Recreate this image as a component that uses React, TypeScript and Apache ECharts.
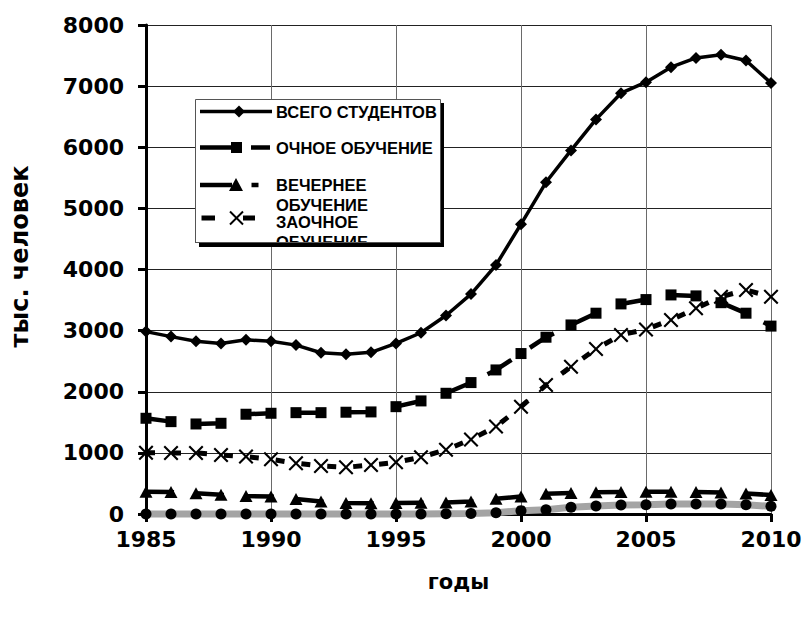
import React, { useEffect, useRef } from "react";
import * as echarts from "echarts";

const years = [1985, 1986, 1987, 1988, 1989, 1990, 1991, 1992, 1993, 1994, 1995, 1996, 1997, 1998, 1999, 2000, 2001, 2002, 2003, 2004, 2005, 2006, 2007, 2008, 2009, 2010];
const totalStudents = [2984, 2902, 2825, 2790, 2850, 2825, 2763, 2638, 2613, 2645, 2791, 2965, 3248, 3598, 4073, 4741, 5427, 5948, 6456, 6884, 7064, 7310, 7461, 7513, 7419, 7050];
const fullTime = [1566, 1511, 1473, 1484, 1632, 1648, 1658, 1658, 1665, 1670, 1756, 1850, 1975, 2150, 2357, 2625, 2892, 3093, 3285, 3437, 3508, 3584, 3568, 3457, 3285, 3074];
const evening = [365, 360, 340, 315, 295, 285, 245, 205, 180, 175, 180, 185, 190, 205, 250, 285, 330, 345, 355, 360, 365, 365, 360, 350, 335, 310];
const correspondence = [1003, 1000, 1000, 965, 940, 895, 830, 785, 765, 800, 845, 930, 1050, 1220, 1430, 1756, 2110, 2410, 2700, 2930, 3020, 3175, 3365, 3555, 3665, 3555];
const external = [0, 0, 0, 0, 0, 0, 0, 0, 0, 0, 0, 0, 5, 10, 20, 55, 70, 110, 130, 147, 150, 164, 164, 164, 150, 125];

const seriesNames = ["ВСЕГО СТУДЕНТОВ", "ОЧНОЕ ОБУЧЕНИЕ", "ВЕЧЕРНЕЕ\nОБУЧЕНИЕ", "ЗАОЧНОЕ\nОБУЧЕНИЕ", "ЭКСТЕРНАТ"];
const xAxisTitle = "годы";
const yAxisTitle = "тыс. человек";

const crossPath = "path://M0,1L1,0L5,4L9,0L10,1L6,5L10,9L9,10L5,6L1,10L0,9L4,5Z";

const pairs = (vals: number[]) => years.map((y, i) => [y, vals[i]]);

const AXIS_FONT = "DejaVu Sans";
const LEGEND_FONT = 'bold 16.5px "Liberation Sans"';

function legendGraphics() {
  const els: any[] = [];
  const z = 100;
  els.push({ type: "rect", z, shape: { x: 199, y: 103, width: 245, height: 144 }, style: { fill: "#000" } });
  els.push({ type: "rect", z: z + 1, shape: { x: 195.5, y: 99.5, width: 245, height: 143 }, style: { fill: "#fff", stroke: "#555", lineWidth: 1 } });
  const rows = [111.5, 148, 185, 221.7];
  const sampleY = [111.5, 147.5, 185, 218];
  // row 1
  els.push({ type: "line", z: z + 2, shape: { x1: 200, y1: sampleY[0], x2: 272, y2: sampleY[0] }, style: { stroke: "#000", lineWidth: 3.5 } });
  els.push({ type: "polygon", z: z + 3, shape: { points: [[239, sampleY[0] - 6], [245, sampleY[0]], [239, sampleY[0] + 6], [233, sampleY[0]]] }, style: { fill: "#000" } });
  // row 2
  els.push({ type: "line", z: z + 2, shape: { x1: 200, y1: sampleY[1], x2: 232, y2: sampleY[1] }, style: { stroke: "#000", lineWidth: 4.5 } });
  els.push({ type: "rect", z: z + 3, shape: { x: 231, y: sampleY[1] - 5.5, width: 11, height: 11 }, style: { fill: "#000" } });
  els.push({ type: "line", z: z + 2, shape: { x1: 251, y1: sampleY[1], x2: 270, y2: sampleY[1] }, style: { stroke: "#000", lineWidth: 4.5 } });
  // row 3
  els.push({ type: "line", z: z + 2, shape: { x1: 200, y1: sampleY[2], x2: 232, y2: sampleY[2] }, style: { stroke: "#000", lineWidth: 4.5 } });
  els.push({ type: "polygon", z: z + 3, shape: { points: [[236, sampleY[2] - 7], [243, sampleY[2] + 6], [229, sampleY[2] + 6]] }, style: { fill: "#000" } });
  els.push({ type: "line", z: z + 2, shape: { x1: 251.5, y1: sampleY[2], x2: 258.5, y2: sampleY[2] }, style: { stroke: "#000", lineWidth: 4.5 } });
  // row 4
  els.push({ type: "line", z: z + 2, shape: { x1: 201.5, y1: sampleY[3], x2: 215, y2: sampleY[3] }, style: { stroke: "#000", lineWidth: 5 } });
  els.push({ type: "line", z: z + 3, shape: { x1: 230, y1: sampleY[3] - 6.5, x2: 243, y2: sampleY[3] + 6.5 }, style: { stroke: "#000", lineWidth: 2 } });
  els.push({ type: "line", z: z + 3, shape: { x1: 230, y1: sampleY[3] + 6.5, x2: 243, y2: sampleY[3] - 6.5 }, style: { stroke: "#000", lineWidth: 2 } });
  els.push({ type: "line", z: z + 2, shape: { x1: 243, y1: sampleY[3], x2: 255, y2: sampleY[3] }, style: { stroke: "#000", lineWidth: 5 } });
  for (let i = 0; i < 4; i++) {
    els.push({
      type: "text",
      z: z + 2,
      x: 276,
      y: rows[i] - 10,
      style: { text: seriesNames[i], font: LEGEND_FONT, fill: "#000", align: "left", verticalAlign: "top", lineHeight: 20 },
    });
  }
  els.push({ type: "rect", z: z + 4, shape: { x: 199, y: 242, width: 245, height: 5 }, style: { fill: "#000" } });
  els.push({ type: "rect", z: z + 4, shape: { x: 272, y: 247, width: 100, height: 5 }, style: { fill: "#fff" } });
  els.push({ type: "line", z: z + 4, shape: { x1: 195, y1: 242.5, x2: 441, y2: 242.5 }, style: { stroke: "#555", lineWidth: 1 } });
  return els;
}

export default function App() {
  const ref = useRef<HTMLDivElement>(null);
  useEffect(() => {
    if (!ref.current) return;
    const chart = echarts.init(ref.current, undefined, { renderer: "svg" });
    const labelStyle = { fontFamily: AXIS_FONT, fontWeight: "bold", fontSize: 22, color: "#000" };
    const option: any = {
      animation: false,
      backgroundColor: "#fff",
      grid: { left: 145, top: 25, width: 626, height: 489, containLabel: false },
      xAxis: {
        type: "value",
        min: 1985,
        max: 2010,
        interval: 5,
        name: xAxisTitle,
        nameLocation: "middle",
        nameGap: 57,
        nameTextStyle: { fontFamily: AXIS_FONT, fontWeight: "bold", fontSize: 21, color: "#000" },
        axisLine: { onZero: false, lineStyle: { color: "#000", width: 3 } },
        axisTick: { show: true, length: 8, lineStyle: { color: "#000", width: 3 } },
        axisLabel: { ...labelStyle, margin: 14, formatter: (v: number) => String(v) },
        splitLine: { show: true, lineStyle: { color: "#6a6a6a", width: 1 } },
      },
      yAxis: {
        type: "value",
        min: 0,
        max: 8000,
        interval: 1000,
        name: yAxisTitle,
        nameLocation: "middle",
        nameRotate: 90,
        nameGap: 114,
        nameTextStyle: { fontFamily: AXIS_FONT, fontWeight: "bold", fontSize: 24, color: "#000", padding: [0, 0, 0, 26] },
        axisLine: { show: true, lineStyle: { color: "#000", width: 3 } },
        axisTick: { show: true, length: 8, lineStyle: { color: "#000", width: 3 } },
        axisLabel: { ...labelStyle, margin: 22, formatter: (v: number) => String(v) },
        splitLine: { show: true, lineStyle: { color: "#222", width: 1 } },
      },
      series: [
        {
          name: seriesNames[0],
          type: "line",
          data: pairs(totalStudents),
          clip: false,
          symbol: "diamond",
          symbolSize: 12,
          itemStyle: { color: "#000" },
          lineStyle: { color: "#000", width: 3.5 },
          z: 5,
        },
        {
          name: seriesNames[1],
          type: "line",
          data: pairs(fullTime),
          clip: false,
          symbol: "rect",
          symbolSize: 11,
          itemStyle: { color: "#000" },
          lineStyle: { color: "#000", width: 4.5, type: [28, 22] },
          z: 4,
        },
        {
          name: seriesNames[2],
          type: "line",
          data: pairs(evening),
          clip: false,
          symbol: "triangle",
          symbolSize: [13, 12],
          itemStyle: { color: "#000" },
          lineStyle: { color: "#000", width: 4.5, type: [28, 22] },
          z: 3,
        },
        {
          name: seriesNames[3],
          type: "line",
          data: pairs(correspondence),
          clip: false,
          symbol: crossPath,
          symbolSize: 15,
          itemStyle: { color: "#000" },
          lineStyle: { color: "#000", width: 5, type: [9, 17] },
          z: 3,
        },
        {
          name: seriesNames[4],
          type: "line",
          data: pairs(external),
          clip: false,
          symbol: "circle",
          symbolSize: 11,
          itemStyle: { color: "#000" },
          lineStyle: { color: "#a4a4a4", width: 7 },
          z: 6,
        },
      ],
      graphic: legendGraphics(),
    };
    chart.setOption(option);
    return () => chart.dispose();
  }, []);
  return <div ref={ref} style={{ position: "fixed", left: 0, top: 0, width: 806, height: 620 }} />;
}
